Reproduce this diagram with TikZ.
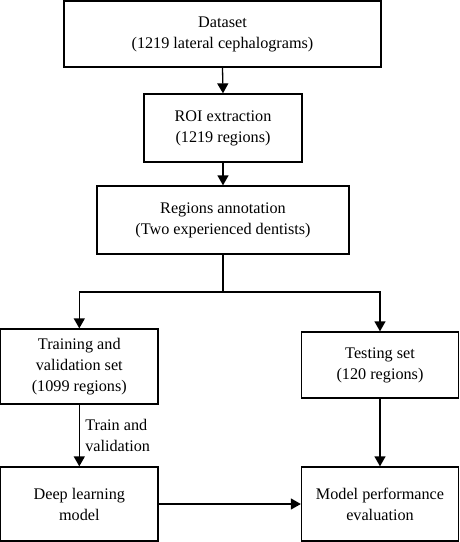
\documentclass[tikz,border=0pt]{standalone}
\usepackage{fontspec}
\setmainfont{Liberation Serif}
\usetikzlibrary{arrows.meta}
\begin{document}
\begin{tikzpicture}[x=1pt,y=-1pt,font=\fontsize{16.2}{21}\selectfont,box/.style={shape=rectangle,draw=black,line width=1.3pt,align=center,inner sep=0pt},arr/.style={line width=1.3pt,-{Triangle[length=10pt,width=11pt]}},lab/.style={anchor=west,align=left}]
\def\xl{79.3};
\def\xr{380};
\def\wl{157.5};
\def\wr{157};

\useasboundingbox (0,0) rectangle (459,542);

\node[box,minimum width=317pt,minimum height=66pt] (data) at (222.5,34) {Dataset\\(1219 lateral cephalograms)};
\node[box,minimum width=158pt,minimum height=68pt] (roi) at (223,128) {ROI extraction\\(1219 regions)};
\draw[arr] (data.south) -- (roi.north);
\node[box,minimum width=252pt,minimum height=68pt] (annot) at (223,220) {Regions annotation\\(Two experienced dentists)};
\draw[arr] (roi.south) -- (annot.north);

\coordinate (split) at (223,292);
\node[box,minimum width=\wl pt,minimum height=75pt] (train) at (\xl,366.5) {Training and\\validation set\\(1099 regions)};
\node[box,minimum width=\wr pt,minimum height=66pt] (test) at (\xr,365) {Testing set\\(120 regions)};
\draw[line width=1.3pt] (annot.south) -- (split);
\draw[arr] (split) -| (train.north);
\draw[arr] (split) -| (test.north);

\node[box,minimum width=\wl pt,minimum height=74pt] (dl) at (\xl,504) {Deep learning\\model};
\node[box,minimum width=\wr pt,minimum height=74pt] (mpe) at (\xr,504) {Model performance\\evaluation};
\draw[arr] (train.south) -- node[lab,xshift=2pt] (trval) {Train and\\validation} (dl.north);
\draw[arr] (test.south) -- (mpe.north);
\draw[arr] (dl.east) -- (mpe.west);
\end{tikzpicture}
\end{document}
